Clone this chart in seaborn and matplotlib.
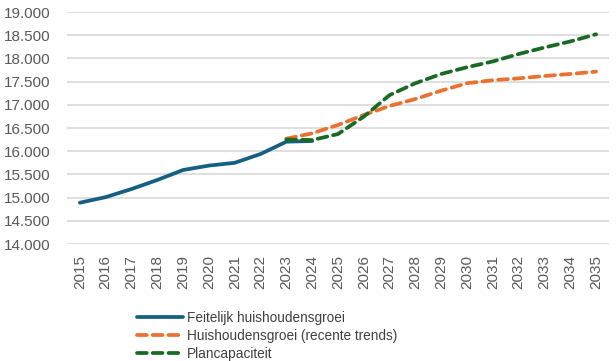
import matplotlib
matplotlib.use("Agg")
import matplotlib.pyplot as plt
import pandas as pd
import seaborn as sns

years = list(range(2015, 2036))

feitelijk_years = list(range(2015, 2025))
feitelijk = [14890, 15010, 15185, 15380, 15595, 15690, 15750, 15940, 16205, 16220]

trend_years = list(range(2023, 2036))
trend = [16270, 16385, 16565, 16780, 16975, 17125, 17305, 17465, 17530, 17570, 17620, 17665, 17715]

plan_years = list(range(2023, 2036))
plan = [16250, 16240, 16370, 16745, 17210, 17465, 17665, 17810, 17935, 18095, 18235, 18365, 18520]

series_names = ["Feitelijk huishoudensgroei",
                "Huishoudensgroei (recente trends)",
                "Plancapaciteit"]

y_ticks = list(range(14000, 19001, 500))
y_labels = [f"{v // 1000}.{v % 1000:03d}" for v in y_ticks]

df = pd.concat([
    pd.DataFrame({"jaar": feitelijk_years, "waarde": feitelijk, "reeks": series_names[0]}),
    pd.DataFrame({"jaar": trend_years, "waarde": trend, "reeks": series_names[1]}),
    pd.DataFrame({"jaar": plan_years, "waarde": plan, "reeks": series_names[2]}),
])

sns.set_theme(style="white")
plt.rcParams['font.family'] = ['Liberation Sans', 'DejaVu Sans']

colors = {series_names[0]: "#156082", series_names[1]: "#E97132", series_names[2]: "#196B24"}
text_col = "#595959"

fig = plt.figure(figsize=(6.16, 3.61), dpi=100)
ax = fig.add_axes([67 / 616, 1 - 244 / 361, (609 - 67) / 616, (244 - 12) / 361])

sns.lineplot(data=df, x="jaar", y="waarde", hue="reeks", palette=colors,
             linewidth=2.7, ax=ax, legend=False)
lines = ax.get_lines()
lines[1].set_dashes((2.6, 1.6))
lines[2].set_dashes((2.6, 1.6))
for ln in lines:
    ln.set_solid_capstyle("round")
    ln.set_dash_capstyle("round")

ax.set_xlim(2014.5, 2035.5)
ax.set_ylim(14000, 19000)
ax.set_xticks(years)
ax.set_xticklabels([str(y) for y in years], rotation=90, fontsize=11, color=text_col)
ax.set_yticks(y_ticks)
ax.set_yticklabels(y_labels, fontsize=11, color=text_col)
ax.yaxis.grid(True, color="#d9d9d9", linewidth=1.2)
ax.set_axisbelow(True)
for s in ax.spines.values():
    s.set_visible(False)
ax.tick_params(axis="y", length=0, pad=12)
ax.tick_params(axis="x", length=0, pad=8)
ax.set_xlabel("")
ax.set_ylabel("")

leg = ax.legend(lines, series_names, loc="upper left", bbox_to_anchor=(130 / 616, 57 / 361),
                bbox_transform=fig.transFigure, frameon=False, fontsize=9.8,
                handlelength=3.4, handletextpad=0.3, labelspacing=0.3, borderpad=0)
for t in leg.get_texts():
    t.set_color("#404040")

fig.savefig("out.png", dpi=100)
